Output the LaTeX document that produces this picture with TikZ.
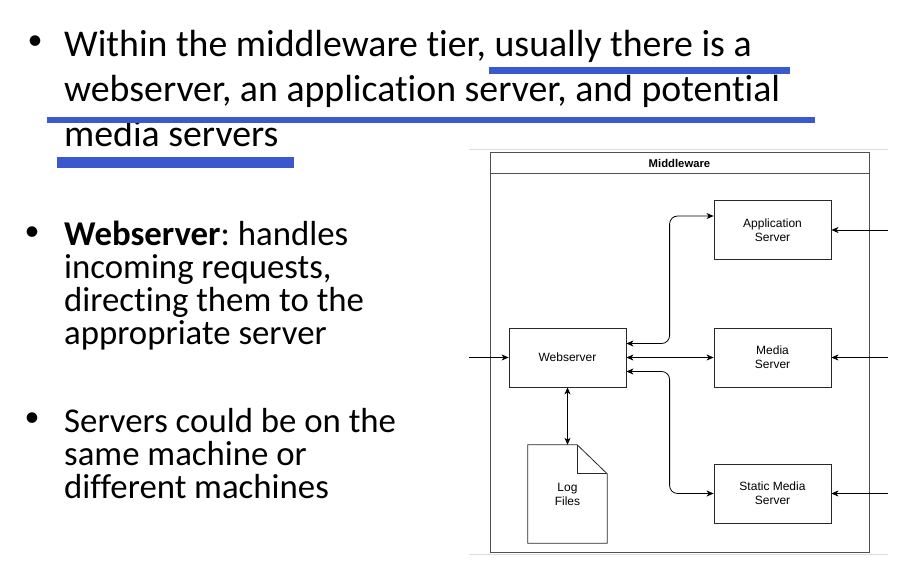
\documentclass[tikz,border=0pt]{standalone}
\usepackage{fontspec}
\setmainfont{Carlito}[Ligatures=NoCommon]
\newfontfamily\diagfont{Liberation Sans}
\usetikzlibrary{arrows.meta,calc}
\frenchspacing

\definecolor{markblue}{RGB}{59,89,207}
\definecolor{boxline}{RGB}{40,40,40}
\definecolor{frameline}{RGB}{80,80,80}
\definecolor{sepgray}{RGB}{220,220,220}

\tikzset{
  % multi-line text blocks are anchored on the baseline of their last line
  bigtext/.style={anchor=base west, inner sep=0pt, align=left,
    font=\fontsize{37.8}{45}\selectfont},
  bodytext/.style={anchor=base west, inner sep=0pt, align=left,
    font=\fontsize{34.8}{33}\selectfont},
  bulletmark/.style={inner sep=0pt, font=\fontsize{30}{30}\selectfont},
  marker/.style={fill=markblue, draw=none},
  server/.style={draw=boxline, line width=0.8pt, minimum width=117pt,
    minimum height=59pt, inner sep=0pt, align=center,
    font=\diagfont\fontsize{12}{14}\selectfont},
  docshape/.style={minimum width=79pt, minimum height=98pt, inner sep=0pt,
    align=center, font=\diagfont\fontsize{12}{14}\selectfont},
  conn/.style={draw=black, line width=0.8pt,
    {Stealth[length=7pt,width=6pt,inset=2pt]}-{Stealth[length=7pt,width=6pt,inset=2pt]}},
  inarrow/.style={draw=black, line width=0.8pt,
    -{Stealth[length=7pt,width=6pt,inset=2pt]}},
}

\begin{document}
\begin{tikzpicture}[x=1pt,y=-1pt]
\useasboundingbox (0,0) rectangle (911,576);

% --- bullet text ---
\node[bulletmark] (b1) at (35,43) {•};
\node[bigtext] (t1) at (64,146) {Within the middleware tier, usually there is a\\
webserver, an application server, and potential\\
media servers};

\node[bulletmark] (b2) at (32,234) {•};
\node[bodytext] (t2) at (64,344) {\textbf{Webserver}: handles\\
incoming requests,\\
directing them to the\\
appropriate server};

\node[bulletmark] (b3) at (32,420) {•};
\node[bodytext] (t3) at (64,498) {Servers could be on the\\
same machine or\\
different machines};

% --- hand-drawn highlight strokes ---
\fill[marker] (489,67) rectangle (790,74);
\fill[marker] (47,117) rectangle (815,123);
\fill[marker] (57,157) rectangle (294,168);

% --- diagram ---
\draw[sepgray, line width=0.8pt] (469,149) -- (888,149);
\draw[sepgray, line width=0.8pt] (469,554) -- (888,554);

\node[draw=frameline, line width=0.9pt, minimum width=379pt, minimum height=400pt,
  inner sep=0pt] (mw) at (679.5,352) {};
\node[font=\diagfont\bfseries\fontsize{11.3}{13}\selectfont, inner sep=0pt]
  (mwtitle) at (679.5,163) {Middleware};
\draw[frameline, line width=0.9pt] ($(mw.north west)+(0,22)$) -- ($(mw.north east)+(0,22)$);

\node[server] (web) at (567.5,357.5) {Webserver};
\node[server] (app) at (772.5,230) {Application\\Server};
\node[server] (media) at (772.5,357.5) {Media\\Server};
\node[server] (static) at (772.5,493.5) {Static Media\\Server};

\node[docshape] (log) at (567.5,494) {Log\\Files};
\draw[boxline, line width=0.8pt, line join=miter]
  (log.north west) -- ($(log.north east)+(-30,0)$) -- ($(log.north east)+(0,29)$)
  -- (log.south east) -- (log.south west) -- cycle;
\draw[boxline, line width=0.8pt]
  ($(log.north east)+(-30,0)$) -- ($(log.north east)+(-30,29)$) -- ($(log.north east)+(0,29)$);

% connectors between the servers
\draw[conn, rounded corners=8pt] ($(web.east)+(0,-14)$) -| ($(app.west)+(-44,-14)$) -- ($(app.west)+(0,-14)$);
\draw[conn] (web.east) -- (media.west);
\draw[conn, rounded corners=8pt] ($(web.east)+(0,14)$) -| ($(static.west)+(-44,0)$) -- (static.west);
\draw[conn] (web.south) -- (log.north);

% incoming requests
\coordinate (inweb) at (469,357.5);
\coordinate (inapp) at (888,230);
\coordinate (inmedia) at (888,357.5);
\coordinate (instatic) at (888,493.5);
\draw[inarrow] (inweb) -- (web.west);
\draw[inarrow] (inapp) -- (app.east);
\draw[inarrow] (inmedia) -- (media.east);
\draw[inarrow] (instatic) -- (static.east);
\end{tikzpicture}
\end{document}
